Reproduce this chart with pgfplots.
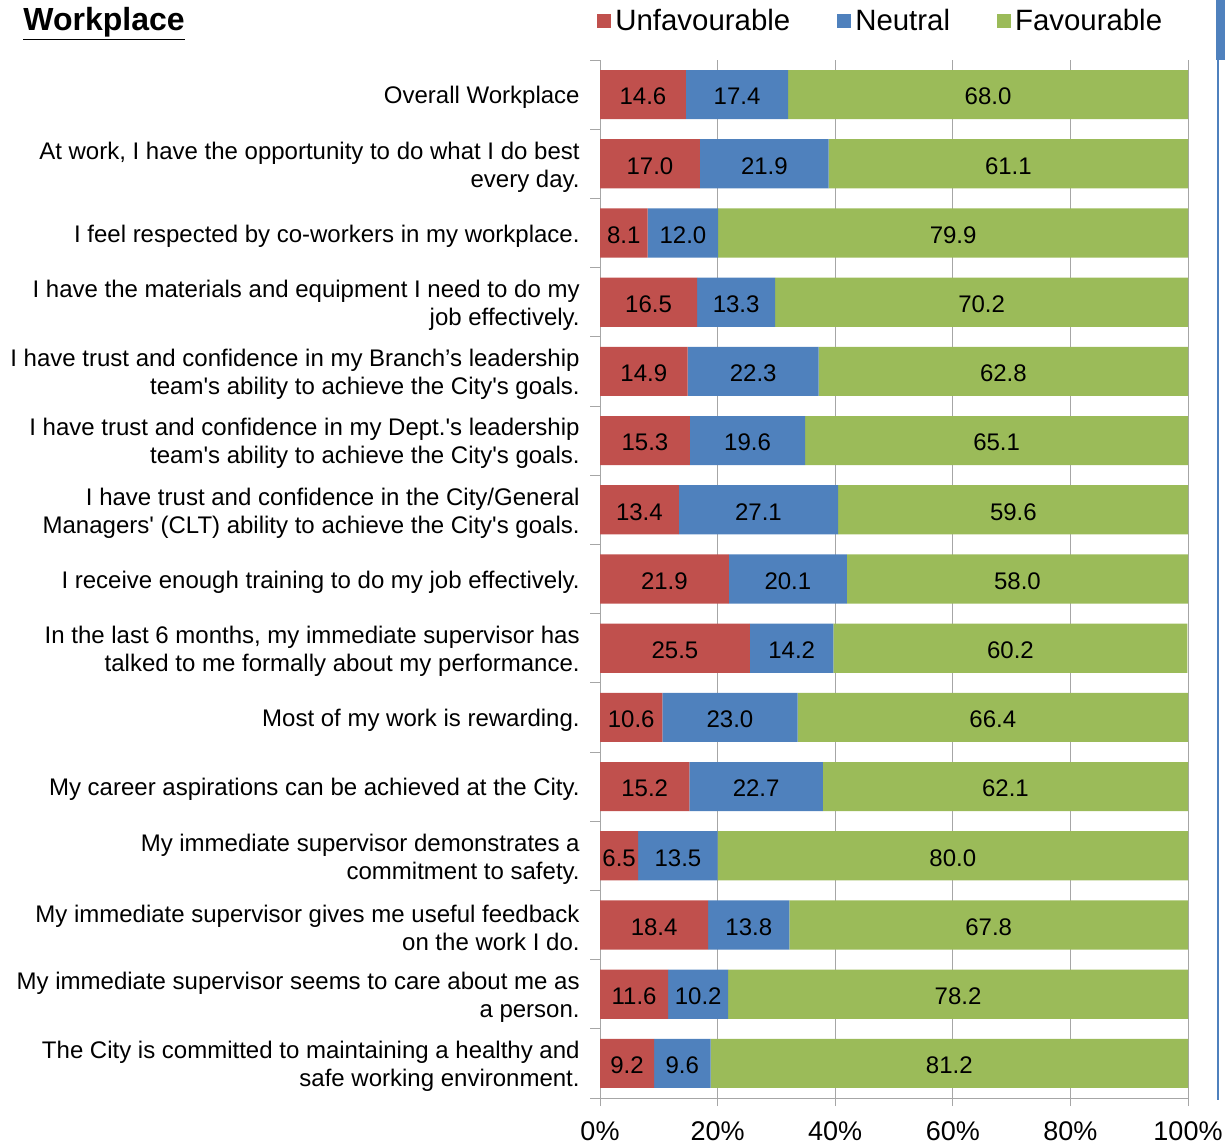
\documentclass[border=0pt]{standalone}
\usepackage{pgfplots}
\pgfplotsset{compat=1.18}
\usepackage{pgfplotstable}
\usepackage{fontspec}
\setmainfont{Liberation Sans}[Ligatures=TeXOff]
\definecolor{cU}{HTML}{C0504D}
\definecolor{cN}{HTML}{4F81BD}
\definecolor{cF}{HTML}{9BBB59}
\definecolor{cG}{HTML}{A6A6A6}
\pgfplotstableread{
idx u n f
0 14.6 17.4 68.0
1 17.0 21.9 61.1
2 8.1 12.0 79.9
3 16.5 13.3 70.2
4 14.9 22.3 62.8
5 15.3 19.6 65.1
6 13.4 27.1 59.6
7 21.9 20.1 58.0
8 25.5 14.2 60.2
9 10.6 23.0 66.4
10 15.2 22.7 62.1
11 6.5 13.5 80.0
12 18.4 13.8 67.8
13 11.6 10.2 78.2
14 9.2 9.6 81.2
}\datatable
\begin{document}
\begin{tikzpicture}
\useasboundingbox (0,0) rectangle (612.5pt,573pt);
\pgfplotsset{
  common/.style={
    at={(300pt,24pt)}, anchor=south west,
    scale only axis, width=294pt, height=519pt,
    xmin=0, xmax=100, ymin=-0.5, ymax=14.5, y dir=reverse,
  }
}
\begin{axis}[common,
  xbar stacked, bar width=0.71,
  axis lines*=left,
  axis line style={cG},
  tick align=outside,
  major tick length=4pt, minor tick length=5pt,
  every tick/.style={cG},
  xtick={0,20,...,100},
  xticklabels={0\%,20\%,40\%,60\%,80\%,100\%},
  xticklabel style={font=\fontsize{13.5}{16}\selectfont, yshift=-4.5pt},
  xmajorgrids, major grid style={cG},
  ytick={0,...,14},
  major y tick style={draw=none},
  minor ytick={-0.5,0.5,...,14.5},
  yticklabel style={align=right, inner sep=0pt, xshift=-6pt, yshift=-1.5pt, font=\fontsize{12}{14}\selectfont},
  yticklabels={
    {Overall Workplace},
    {At work, I have the opportunity to do what I do best\\every day.},
    {I feel respected by co-workers in my workplace.},
    {I have the materials and equipment I need to do my\\job effectively.},
    {I have trust and confidence in my Branch’s leadership\\team's ability to achieve the City's goals.},
    {I have trust and confidence in my Dept.'s leadership\\team's ability to achieve the City's goals.},
    {I have trust and confidence in the City/General\\Managers' (CLT) ability to achieve the City's goals.},
    {I receive enough training to do my job effectively.},
    {In the last 6 months, my immediate supervisor has\\talked to me formally about my performance.},
    {Most of my work is rewarding.},
    {My career aspirations can be achieved at the City.},
    {My immediate supervisor demonstrates a\\commitment to safety.},
    {My immediate supervisor gives me useful feedback\\on the work I do.},
    {My immediate supervisor seems to care about me as\\a person.},
    {The City is committed to maintaining a healthy and\\safe working environment.}
  },
  legend columns=3,
  legend style={at={(0,1)}, anchor=west, xshift=-1.5pt, yshift=19.5pt,
    draw=none, fill=none, inner sep=0pt,
    font=\fontsize{14.7}{17}\selectfont,
    /tikz/every even column/.append style={column sep=21.5pt}},
  legend cell align=left,
  legend image code/.code={\fill[#1] (0pt,-3.5pt) rectangle (7pt,3.5pt);},
]
\addplot[fill=cU, draw=none] table[x=u, y=idx] {\datatable};
\addplot[fill=cN, draw=none] table[x=n, y=idx] {\datatable};
\addplot[fill=cF, draw=none] table[x=f, y=idx] {\datatable};
\legend{Unfavourable,Neutral,Favourable}
\end{axis}
\begin{axis}[common, hide axis, clip=false,
  every node near coord/.append style={anchor=center, yshift=-1pt, font=\fontsize{12}{14}\selectfont, text=black},
]
\addplot[draw=none, mark=none, nodes near coords, point meta=explicit symbolic]
  table[x expr=\thisrow{u}/2, y=idx, meta=u] {\datatable};
\addplot[draw=none, mark=none, nodes near coords, point meta=explicit symbolic]
  table[x expr=\thisrow{u}+\thisrow{n}/2, y=idx, meta=n] {\datatable};
\addplot[draw=none, mark=none, nodes near coords, point meta=explicit symbolic]
  table[x expr=\thisrow{u}+\thisrow{n}+\thisrow{f}/2, y=idx, meta=f] {\datatable};
\end{axis}
\node[anchor=west, inner sep=0pt, font=\bfseries\fontsize{16}{19}\selectfont] at (11.5pt,561pt) {\underline{Workplace}};
\fill[cN] (608pt,543pt) rectangle (612.5pt,573pt);
\draw[cN, line width=1pt] (609pt,543pt) -- (609pt,23pt);
\end{tikzpicture}
\end{document}
